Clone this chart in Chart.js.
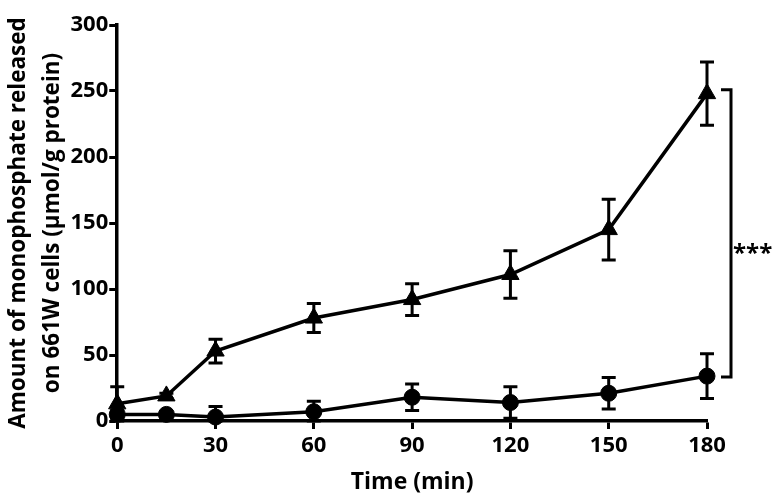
<!DOCTYPE html>
<html>
<head>
<meta charset="utf-8">
<script src="https://cdn.jsdelivr.net/npm/chart.js@4/dist/chart.umd.min.js"></script>
<style>
  html, body { margin: 0; padding: 0; background: #fff; }
  #wrap { width: 776px; height: 496px; }
</style>
</head>
<body>
<div id="wrap"><canvas id="chart"></canvas></div>
<script>
// time points (min)
const times = [0, 15, 30, 60, 90, 120, 150, 180];
// triangles: upper curve
const triangleValues = [13, 19, 53, 78, 92, 111, 145, 248];
const triangleErrors = [13, 2, 9, 11, 12, 18, 23, 24];
// circles: lower curve
const circleValues = [5, 5, 3, 7, 18, 14, 21, 34];
const circleErrors = [3, 2, 8, 8, 10, 12, 12, 17];
// axis ticks
const xTicks = [0, 30, 60, 90, 120, 150, 180];
const yTicks = [0, 50, 100, 150, 200, 250, 300];
const significance = '***';

const FONT = "'Open Sans', sans-serif";

function toPoints(vals) {
    return vals.map((v, i) => ({ x: times[i], y: v }));
}

// error bars, bracket and stars drawn on top of the scales
const extrasPlugin = {
    id: 'extras',
    afterDatasetsDraw(chart) {
        const ctx = chart.ctx;
        const xs = chart.scales.x;
        const ys = chart.scales.y;
        ctx.save();
        ctx.strokeStyle = '#000';
        ctx.lineWidth = 3;
        const cap = 7;
        const drawBars = (vals, errs) => {
            vals.forEach((v, i) => {
                const px = xs.getPixelForValue(times[i]);
                const top = ys.getPixelForValue(v + errs[i]);
                const bot = ys.getPixelForValue(Math.max(0, v - errs[i]));
                ctx.beginPath();
                ctx.moveTo(px, top); ctx.lineTo(px, bot);
                ctx.moveTo(px - cap, top); ctx.lineTo(px + cap, top);
                ctx.moveTo(px - cap, bot); ctx.lineTo(px + cap, bot);
                ctx.stroke();
            });
        };
        drawBars(triangleValues, triangleErrors);
        drawBars(circleValues, circleErrors);

        // significance bracket at the last time point
        const last = times.length - 1;
        const bx = xs.getPixelForValue(times[last]) + 24;
        const yTop = ys.getPixelForValue(triangleValues[last]) - 4;
        const yBot = ys.getPixelForValue(circleValues[last]) + 1;
        ctx.beginPath();
        ctx.moveTo(bx - 10, yTop); ctx.lineTo(bx, yTop);
        ctx.lineTo(bx, yBot); ctx.lineTo(bx - 10, yBot);
        ctx.stroke();
        ctx.fillStyle = '#000';
        ctx.font = 'bold 24px ' + FONT;
        ctx.textAlign = 'left';
        ctx.textBaseline = 'alphabetic';
        ctx.fillText(significance, bx + 2, (yTop + yBot) / 2 + 28);
        ctx.restore();
    }
};

new Chart(document.getElementById('chart'), {
    type: 'line',
    data: {
        datasets: [
            {
                label: 'triangles',
                data: toPoints(triangleValues),
                borderColor: '#000',
                backgroundColor: '#000',
                borderWidth: 3.5,
                pointStyle: 'triangle',
                pointRadius: 10,
                pointBorderWidth: 1,
                clip: false
            },
            {
                label: 'circles',
                data: toPoints(circleValues),
                borderColor: '#000',
                backgroundColor: '#000',
                borderWidth: 3.5,
                pointStyle: 'circle',
                pointRadius: 8,
                pointBorderWidth: 1,
                clip: false
            }
        ]
    },
    options: {
        responsive: true,
        maintainAspectRatio: false,
        animation: false,
        layout: { padding: { top: 25, right: 69, left: 2, bottom: 0 } },
        plugins: {
            legend: { display: false },
            tooltip: { enabled: false }
        },
        scales: {
            x: {
                type: 'linear',
                min: 0,
                max: 180,
                afterBuildTicks: axis => { axis.ticks = xTicks.map(v => ({ value: v })); },
                grid: { drawOnChartArea: false, drawTicks: true, tickLength: 8, tickWidth: 3, tickColor: '#000' },
                border: { display: true, width: 3.5, color: '#000' },
                ticks: { color: '#000', font: { family: FONT, size: 22, weight: 'bold' }, padding: 4 },
                title: {
                    display: true,
                    text: 'Time (min)',
                    color: '#000',
                    font: { family: FONT, size: 23, weight: 'bold' },
                    padding: { top: 5, bottom: 0 }
                }
            },
            y: {
                type: 'linear',
                min: 0,
                max: 300,
                afterBuildTicks: axis => { axis.ticks = yTicks.map(v => ({ value: v })); },
                grid: { drawOnChartArea: false, drawTicks: true, tickLength: 8, tickWidth: 3, tickColor: '#000' },
                border: { display: true, width: 3.5, color: '#000' },
                ticks: { color: '#000', font: { family: FONT, size: 22, weight: 'bold' }, padding: 1 },
                title: {
                    display: true,
                    text: ['Amount of monophosphate released', 'on 661W cells (\u03bcmol/g protein)'],
                    color: '#000',
                    font: { family: FONT, size: 22.5, weight: 'bold', lineHeight: 1.5 },
                    padding: { top: 0, bottom: 0 }
                }
            }
        }
    },
    plugins: [extrasPlugin]
});
</script>
</body>
</html>
